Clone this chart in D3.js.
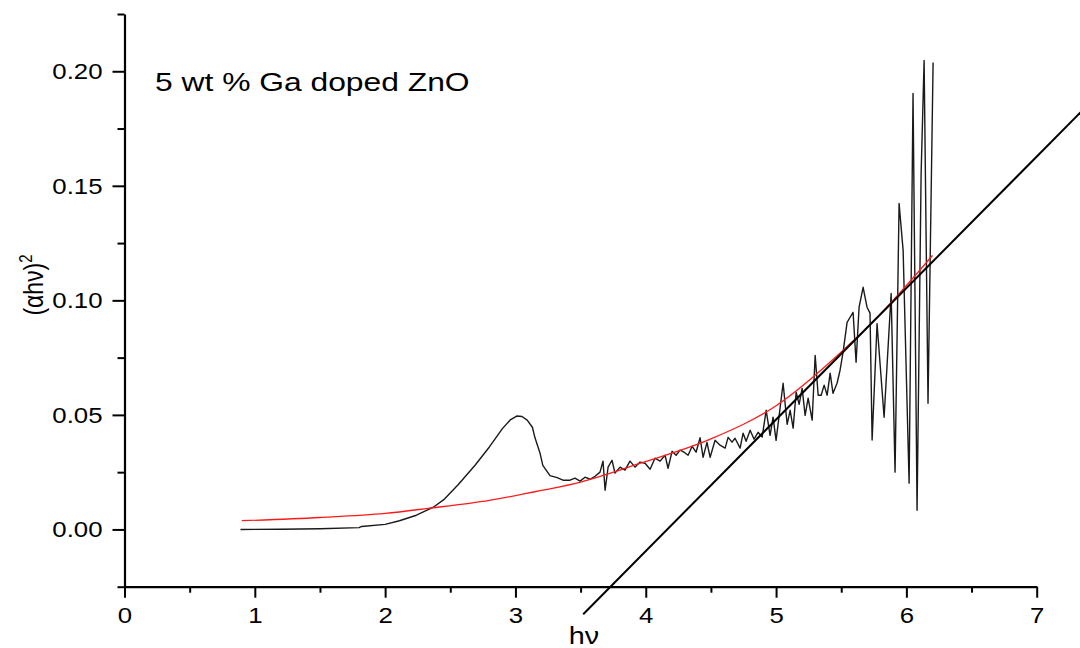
<html>
<head>
    <script src='https://d3js.org/d3.v7.min.js'></script>
</head>
<body style="margin:0; background:#fff;">

<div id="chart"></div>

<style>
    text { font-family: "Liberation Sans", Arial, sans-serif; fill: #000; }
</style>

<script>

// measured data: photon energy (eV) vs (alpha h nu)^2
var energy = [0.89, 1.20, 1.50, 1.80, 1.82, 2.00, 2.11, 2.24, 2.37, 2.45, 2.56, 2.69, 2.80, 2.90, 2.96, 3.01, 3.05,
    3.09, 3.13, 3.15, 3.19, 3.21, 3.265, 3.32, 3.365, 3.419, 3.457, 3.496, 3.534, 3.573, 3.611, 3.649, 3.672,
    3.688, 3.711, 3.741, 3.764, 3.803, 3.841, 3.879, 3.918, 3.956, 3.995, 4.033, 4.071, 4.110, 4.148, 4.171,
    4.202, 4.233, 4.263, 4.294, 4.325, 4.356, 4.386, 4.417, 4.44, 4.47, 4.494, 4.532, 4.570, 4.609, 4.632,
    4.662, 4.685, 4.724, 4.747, 4.770, 4.801, 4.831, 4.862, 4.893, 4.924, 4.954, 4.977, 5.000, 5.023, 5.054,
    5.085, 5.108, 5.131, 5.154, 5.177, 5.200, 5.223, 5.246, 5.277, 5.300, 5.323, 5.346, 5.369, 5.392, 5.415,
    5.437, 5.468, 5.491, 5.514, 5.545, 5.591, 5.614, 5.637, 5.668, 5.698, 5.721, 5.737, 5.775, 5.829, 5.883,
    5.913, 5.944, 5.975, 6.021, 6.051, 6.082, 6.113, 6.136, 6.166, 6.205];

var absorb = [0.0000, 0.0001, 0.0003, 0.0008, 0.0013, 0.0022, 0.0038, 0.0062, 0.0097, 0.0130, 0.0195, 0.0280,
    0.0360, 0.0440, 0.0478, 0.0495, 0.0493, 0.0477, 0.0446, 0.0400, 0.0330, 0.0280, 0.0235, 0.0226, 0.0215, 0.0215,
    0.0224, 0.0211, 0.0228, 0.0219, 0.0232, 0.0250, 0.0298, 0.0171, 0.0272, 0.0302, 0.0246, 0.0272, 0.0259,
    0.0298, 0.0272, 0.0294, 0.0289, 0.0263, 0.0311, 0.0298, 0.0324, 0.0267, 0.0341, 0.0324, 0.0346, 0.0337,
    0.0324, 0.0363, 0.0337, 0.0400, 0.0315, 0.0380, 0.0315, 0.0389, 0.0368, 0.0355, 0.0402, 0.0381, 0.0398,
    0.0355, 0.0420, 0.0385, 0.0433, 0.0394, 0.0424, 0.0403, 0.0520, 0.0411, 0.0490, 0.0389, 0.0494, 0.0638,
    0.0459, 0.0520, 0.0442, 0.0599, 0.0546, 0.0616, 0.0498, 0.0573, 0.0477, 0.0760, 0.0586, 0.0586, 0.0630,
    0.0586, 0.0682, 0.0594, 0.0638, 0.0695, 0.0773, 0.0904, 0.0948, 0.0730, 0.0970, 0.1057, 0.0970, 0.0944,
    0.0390, 0.0898, 0.0490, 0.1030, 0.0250, 0.1423, 0.1218, 0.0202, 0.1903, 0.0084, 0.1552, 0.2047, 0.0551,
    0.2038];

// red fitted curve
var fitEnergy = [0.9, 1.5, 2.0, 2.33, 2.8, 3.2, 3.5, 3.96, 4.5, 5.0, 5.49, 5.8, 6.2];
var fitValue = [0.0038, 0.0052, 0.0070, 0.0092, 0.0127, 0.0170, 0.0207, 0.0289, 0.0395, 0.0540, 0.0769, 0.0940, 0.1196];

// straight line extrapolation
var tangentEnergy = [3.52, 7.40];
var tangentValue = [-0.037, 0.1857];

var xTicks = [0, 1, 2, 3, 4, 5, 6, 7];
var xMinor = [0.5, 1.5, 2.5, 3.5, 4.5, 5.5, 6.5];
var yTicks = [0.00, 0.05, 0.10, 0.15, 0.20];
var yMinor = [-0.025, 0.025, 0.075, 0.125, 0.175, 0.225];

var titleText = "5 wt % Ga doped ZnO";

var width = 1080, height = 648;

var svg = d3.select("#chart")
    .append("svg")
    .attr("width", width)
    .attr("height", height);

var x = d3.scaleLinear()
    .domain([0, 7])
    .range([124.5, 1036.7]);

var y = d3.scaleLinear()
    .domain([-0.025, 0.225])
    .range([586.7, 14]);

var stretch = 1.2; // glyphs in the picture are wider than normal

// minor ticks
svg.append("g")
    .attr("transform", "translate(0," + y(-0.025) + ")")
    .call(d3.axisBottom(x).tickValues(xMinor).tickSize(6).tickSizeOuter(0).tickFormat(""))
    .call(g => g.select(".domain").remove())
    .call(g => g.selectAll("line").attr("stroke-width", 2));

svg.append("g")
    .attr("transform", "translate(" + x(0) + ",0)")
    .call(d3.axisLeft(y).tickValues(yMinor).tickSize(7).tickSizeOuter(0).tickFormat(""))
    .call(g => g.select(".domain").remove())
    .call(g => g.selectAll("line").attr("stroke-width", 2));

// X axis
var xAxis = svg.append("g")
    .attr("transform", "translate(0," + y(-0.025) + ")")
    .call(d3.axisBottom(x).tickValues(xTicks).tickSize(11).tickSizeOuter(0).tickFormat(d3.format("d")));
xAxis.select(".domain").attr("stroke-width", 2.2);
xAxis.selectAll("line").attr("stroke-width", 2);
xAxis.selectAll("text")
    .attr("y", 0).attr("dy", 0)
    .attr("transform", "translate(0,36) scale(" + stretch + ",1)")
    .style("font-size", "21.5px")
    .style("font-family", "Liberation Sans, Arial, sans-serif");

// Y axis
var yAxis = svg.append("g")
    .attr("transform", "translate(" + x(0) + ",0)")
    .call(d3.axisLeft(y).tickValues(yTicks).tickSize(12).tickSizeOuter(0).tickFormat(d3.format(".2f")));
yAxis.select(".domain").attr("stroke-width", 2.2);
yAxis.selectAll("line").attr("stroke-width", 2);
yAxis.selectAll("text")
    .attr("x", 0).attr("dy", "0.35em")
    .attr("transform", "translate(-22,0) scale(" + stretch + ",1)")
    .style("font-size", "21.5px")
    .style("font-family", "Liberation Sans, Arial, sans-serif");

// curves
var measured = energy.map((e, i) => [e, absorb[i]]);
var fitted = fitEnergy.map((e, i) => [e, fitValue[i]]);
var tangent = tangentEnergy.map((e, i) => [e, tangentValue[i]]);

var line = d3.line()
    .x(d => x(d[0]))
    .y(d => y(d[1]));

svg.append("path")
    .datum(measured)
    .attr("fill", "none")
    .attr("stroke", "#1a1a1a")
    .attr("stroke-width", 1.4)
    .attr("stroke-linejoin", "round")
    .attr("d", line);

svg.append("path")
    .datum(fitted)
    .attr("fill", "none")
    .attr("stroke", "#ff1a1a")
    .attr("stroke-width", 1.3)
    .attr("d", line.curve(d3.curveMonotoneX));

svg.append("path")
    .datum(tangent)
    .attr("fill", "none")
    .attr("stroke", "#000")
    .attr("stroke-width", 2)
    .attr("d", d3.line().x(d => x(d[0])).y(d => y(d[1])));

// title
svg.append("text")
    .attr("transform", "translate(155,90.5) scale(" + stretch + ",1)")
    .style("font-size", "26.5px")
    .text(titleText);

// x label
svg.append("text")
    .attr("transform", "translate(584,644) scale(" + stretch + ",1)")
    .style("text-anchor", "middle")
    .style("font-size", "24px")
    .text("h\u03BD");

// y label
var ylab = svg.append("text")
    .attr("transform", "translate(43,285) rotate(-90) scale(1," + stretch + ")")
    .style("text-anchor", "middle")
    .style("font-size", "23px");
ylab.append("tspan").text("(\u03B1h\u03BD)");
ylab.append("tspan").attr("dy", "-0.6em").style("font-size", "15px").text("2");

</script>

</body>
</html>
